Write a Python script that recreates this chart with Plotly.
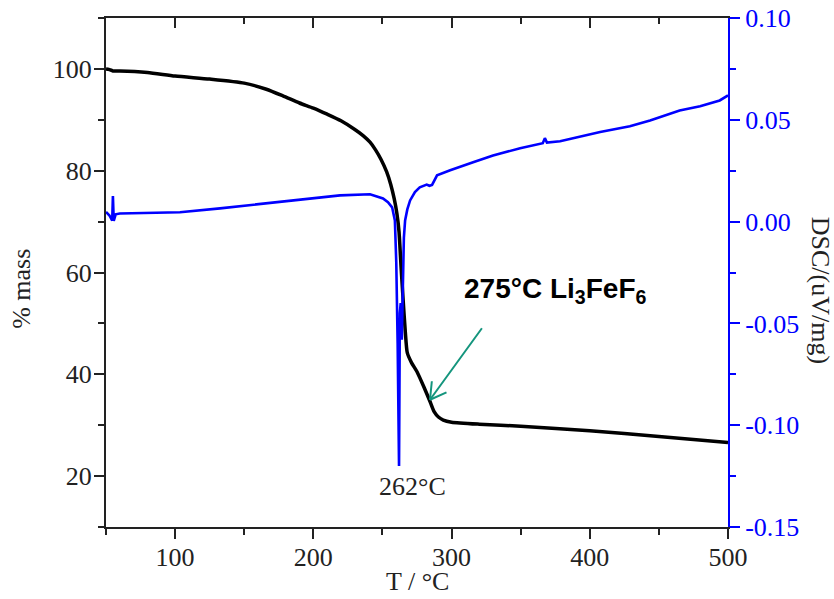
import plotly.graph_objects as go

# TGA: temperature (°C) and remaining mass (%)
tga_temp = [50, 52, 55, 60, 80, 100, 125, 150, 166, 178, 190, 200, 210, 220, 230,
            236, 241, 245, 249, 253, 256, 258.5, 260.5, 262, 263.5, 265, 266.5,
            268, 271, 275, 280, 284.5, 287.5, 290.5, 294, 300, 320, 350, 400, 450,
            500]
tga_mass = [100.0, 99.9, 99.6, 99.6, 99.3, 98.6, 98.0, 97.2, 96.0, 94.7, 93.3,
            92.3, 91.1, 89.8, 88.1, 86.9, 85.6, 84.1, 82.2, 79.8, 77.3, 74.5,
            71.5, 68.0, 61.0, 54.5, 48.5, 44.2, 42.3, 40.5, 37.5, 34.6, 32.6, 31.6,
            31.0, 30.6, 30.2, 29.8, 28.9, 27.8, 26.6]

# DSC: temperature (°C) and heat flow (uV/mg)
dsc_temp = [50, 52.5, 54.5, 55, 55.6, 57, 60, 80, 103.5, 132.5, 160, 190, 219.3, 241,
            250.4, 254, 257, 259, 260, 261, 262, 262.6, 263.2, 264, 264.8, 265.5,
            266.4, 268, 270, 273.5, 277, 280, 282, 284, 285.9, 289.5, 299, 315.6,
            330, 349.6, 366, 367.5, 369, 378.5, 407.5, 429, 443.6, 465, 479.8, 494,
            500]
dsc_val = [0.0047, 0.0030, 0.0005, 0.0126, 0.0003, 0.0036, 0.0040, 0.0043, 0.0046,
           0.0065, 0.0085, 0.0104, 0.0129, 0.0134, 0.0114, 0.0095, 0.0070, 0.0006,
           -0.0200, -0.0600, -0.1200, -0.0450, -0.0400, -0.0580, -0.0250, -0.0080,
           0.0006, 0.0060, 0.0104, 0.0145, 0.0168, 0.0178, 0.0182, 0.0176, 0.0180,
           0.0227, 0.0252, 0.0291, 0.0325, 0.0360, 0.0385, 0.0410, 0.0388, 0.0395,
           0.0440, 0.0468, 0.0497, 0.0546, 0.0566, 0.0595, 0.0620]

mass_ticks = [20, 40, 60, 80, 100]
dsc_ticks = [-0.15, -0.10, -0.05, 0.00, 0.05, 0.10]
dsc_tick_text = ["-0.15", "-0.10", "-0.05", "0.00", "0.05", "0.10"]

peak_temp = 262
event_temp = 275

serif = "Liberation Serif, Times New Roman, serif"
blue = "#0000ff"
dark = "#222222"

fig = go.Figure()
fig.add_trace(go.Scatter(x=tga_temp, y=tga_mass, mode="lines",
                         line=dict(color="black", width=3.5, shape="spline",
                                   smoothing=0.6), yaxis="y"))
fig.add_trace(go.Scatter(x=dsc_temp, y=dsc_val, mode="lines",
                         line=dict(color=blue, width=2.6), yaxis="y2"))

axis_font = dict(family=serif, size=26, color=dark)

fig.update_layout(
    width=834, height=599,
    margin=dict(l=106, r=106, t=18, b=72),
    paper_bgcolor="white", plot_bgcolor="white",
    showlegend=False,
    xaxis=dict(range=[50, 500], tick0=0, dtick=100, ticks="outside", ticklen=10,
               tickwidth=2, tickcolor=dark, showline=True, linecolor=dark,
               linewidth=2, showgrid=False, zeroline=False, tickfont=axis_font,
               automargin=False, ticklabelstandoff=-4,
               minor=dict(dtick=50, tick0=0, ticks="outside", ticklen=6,
                          tickwidth=2, tickcolor=dark, showgrid=False)),
    xaxis2=dict(range=[50, 500], overlaying="x", side="top", tick0=0, dtick=100,
                ticks="inside", ticklen=10, tickwidth=2, tickcolor=dark,
                showline=True, linecolor=dark, linewidth=2, showgrid=False,
                zeroline=False, showticklabels=False, automargin=False,
                minor=dict(dtick=50, tick0=0, ticks="inside", ticklen=6,
                           tickwidth=2, tickcolor=dark, showgrid=False)),
    yaxis=dict(range=[10, 110], tickmode="array", tickvals=mass_ticks,
               ticks="outside", ticklen=10, tickwidth=2, tickcolor=dark,
               showline=True, linecolor=dark, linewidth=2, showgrid=False,
               zeroline=False, tickfont=axis_font, automargin=False,
               ticklabelstandoff=-3,
               minor=dict(dtick=10, tick0=0, ticks="outside", ticklen=6,
                          tickwidth=2, tickcolor=dark, showgrid=False)),
    yaxis2=dict(range=[-0.15, 0.10], overlaying="y", side="right",
                tickmode="array", tickvals=dsc_ticks, ticktext=dsc_tick_text,
                ticks="outside", ticklen=10, tickwidth=2, tickcolor=blue,
                showline=True, linecolor=blue, linewidth=2, showgrid=False,
                zeroline=False, automargin=False,
                tickfont=dict(family=serif, size=26, color=blue),
                minor=dict(dtick=0.025, tick0=0, ticks="outside", ticklen=6,
                           tickwidth=2, tickcolor=blue, showgrid=False)),
)

# invisible point so the top mirror axis is drawn
fig.add_trace(go.Scatter(x=[50], y=[10], xaxis="x2", mode="markers",
                         marker=dict(opacity=0), hoverinfo="skip"))

title_font = dict(family=serif, size=26, color=dark)
fig.add_annotation(text="% mass", xref="paper", yref="paper", x=-0.135, y=0.468,
                   xanchor="center", yanchor="middle",
                   textangle=-90, showarrow=False, font=title_font)
fig.add_annotation(text="T / °C", xref="paper", yref="paper", x=0.5, y=-0.108,
                   xanchor="center", yanchor="middle",
                   showarrow=False, font=title_font)
fig.add_annotation(text="DSC/(uV/mg)", xref="paper", yref="paper", x=1.148, y=0.466,
                   xanchor="center", yanchor="middle",
                   textangle=90, showarrow=False, font=title_font)

# peak label under the endotherm
fig.add_annotation(text=f"{peak_temp}°C", x=272.1, y=17.9, xref="x", yref="y",
                   showarrow=False, font=title_font)

# decomposition label with arrow pointing to the mass-loss curve
fig.add_annotation(text=f"<b>{event_temp}°C Li<sub>3</sub>FeF<sub>6</sub></b>",
                   x=307.6, y=56.5, xref="x", yref="y", xanchor="left",
                   showarrow=False,
                   font=dict(family="Liberation Sans, Arial, sans-serif", size=28,
                             color="black"))
teal = "#14957d"
tip_x, tip_y = 284.4, 35.0
for ax, ay in [(53, -73), (18, -8), (2, -20)]:
    fig.add_annotation(text="", x=tip_x, y=tip_y, xref="x", yref="y",
                       ax=ax, ay=ay, axref="pixel", ayref="pixel",
                       showarrow=True, arrowhead=0, arrowwidth=2, arrowcolor=teal)

fig.write_html("out.html")
